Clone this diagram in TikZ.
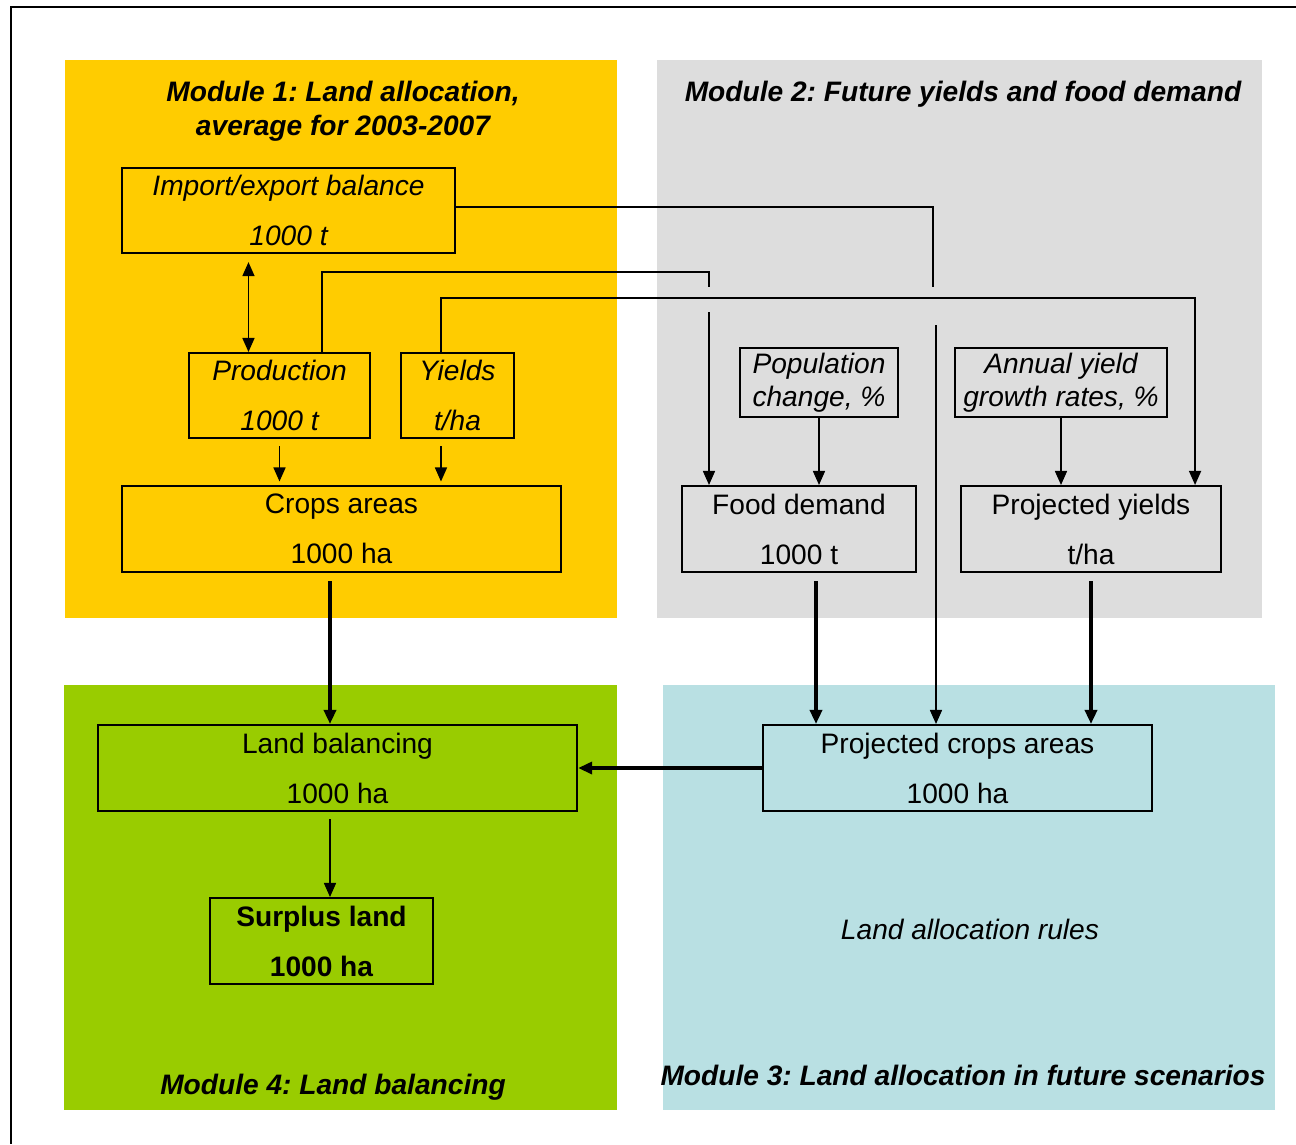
\documentclass[tikz,border=0pt]{standalone}
\usepackage{fontspec}
\setmainfont{Liberation Sans}
\usepackage{tikz}
\usetikzlibrary{arrows.meta}
\definecolor{modone}{HTML}{FFCC00}
\definecolor{modtwo}{HTML}{DDDDDD}
\definecolor{modthree}{HTML}{B9E0E3}
\definecolor{modfour}{HTML}{99CC00}
\frenchspacing
\begin{document}
\begin{tikzpicture}[x=0.01cm,y=-0.01cm,>={Triangle[length=4pt,width=3.4pt]},
  box/.style={draw,line width=0.55pt,inner sep=0pt,align=center,font=\fontsize{8}{14.2}\selectfont},
  small box/.style={draw,line width=0.55pt,inner sep=0pt,align=center,font=\fontsize{8}{9.4}\selectfont\itshape},
  title/.style={align=center,inner sep=0pt,font=\fontsize{8}{9.7}\selectfont\bfseries\itshape},
  link/.style={line width=0.5pt},
  main link/.style={line width=1.3pt}]

\useasboundingbox (0,0) rectangle (1296,1144);
\draw[line width=0.6pt] (1296,7) -| (11,1144);

% module backgrounds
\fill[modone] (65,60) rectangle (617,618);
\fill[modtwo] (657,60) rectangle (1262,618);
\fill[modfour] (64,685) rectangle (617,1110);
\fill[modthree] (663,685) rectangle (1275,1110);

\node at (343,111) [title] (t1) {Module 1: Land allocation,\\average for 2003-2007};
\node at (963,94) [title] (t2) {Module 2: Future yields and food demand};
\node at (963,1075) [title] (t3) {Module 3: Land allocation in future scenarios};
\node at (333,1087) [title] (t4) {Module 4: Land balancing};

\node at (288.5,210.5) [box,minimum width=3.33cm,minimum height=0.85cm,font=\fontsize{8}{14.2}\selectfont\itshape] (imp) {Import/export balance\\1000 t};
\node at (279.5,395.5) [box,minimum width=1.81cm,minimum height=0.85cm,font=\fontsize{8}{14.2}\selectfont\itshape] (prod) {Production\\1000 t};
\node at (457.5,395.5) [box,minimum width=1.13cm,minimum height=0.85cm,font=\fontsize{8}{14.2}\selectfont\itshape] (yld) {Yields\\t/ha};
\node at (341.5,529) [box,minimum width=4.39cm,minimum height=0.86cm] (crops) {Crops areas\\1000 ha};

\node at (819,382.5) [small box,minimum width=1.58cm,minimum height=0.69cm] (pop) {Population\\change, \%};
\node at (1061,382.5) [small box,minimum width=2.12cm,minimum height=0.69cm] (ann) {Annual yield\\growth rates, \%};
\node at (799,529) [box,minimum width=2.34cm,minimum height=0.86cm] (food) {Food demand\\1000 t};
\node at (1091,529) [box,minimum width=2.6cm,minimum height=0.86cm] (pyld) {Projected yields\\t/ha};

\node at (337.5,768) [box,minimum width=4.79cm,minimum height=0.86cm] (bal) {Land balancing\\1000 ha};
\node at (321.5,941) [box,minimum width=2.23cm,minimum height=0.86cm,font=\fontsize{8}{14.2}\selectfont\bfseries] (surp) {Surplus land\\1000 ha};
\node at (957.5,768) [box,minimum width=3.89cm,minimum height=0.86cm] (pca) {Projected crops areas\\1000 ha};
\node at (970,929) [font=\fontsize{8}{9.6}\selectfont\itshape] (rules) {Land allocation rules};

\coordinate (gapAt) at (709,287);
\coordinate (gapAb) at (709,312);
\coordinate (gapBt) at (933,287);
\coordinate (gapBb) at (936,325);

\draw[link,<->,shorten <=2.3pt] ([xshift=-0.4cm]imp.south) -- ([xshift=-0.4cm]imp.south |- prod.north);
\draw[link] ([yshift=0.035cm]imp.east) -| (gapBt);
\draw[link,->] (gapBb) -- (gapBb |- pca.north);
\draw[link] ([xshift=0.425cm]prod.north) -- ++(0,-80) -| (gapAt);
\draw[link,->] (gapAb) -- (gapAb |- food.north);
\draw[link,->] ([xshift=-0.165cm]yld.north) -- ++(0,-54) -| ([xshift=1.04cm]pyld.north);

\draw[link,->,shorten <=2pt,shorten >=1pt] (prod.south) -- (prod.south |- crops.north);
\draw[link,->,shorten <=2pt,shorten >=1pt] ([xshift=-0.165cm]yld.south) -- ([xshift=-0.165cm]yld.south |- crops.north);
\draw[link,->] (pop.south) -- (pop.south |- food.north);
\draw[link,->] (ann.south) -- (ann.south |- pyld.north);

\draw[main link,->,shorten <=2.3pt] ([xshift=-0.115cm]crops.south) -- ([xshift=-0.115cm]crops.south |- bal.north);
\draw[main link,->,shorten <=2.3pt] ([xshift=0.17cm]food.south) -- ([xshift=0.17cm]food.south |- pca.north);
\draw[main link,->,shorten <=2.3pt] (pyld.south) -- (pyld.south |- pca.north);
\draw[main link,->] (pca.west) -- (bal.east);
\draw[link,->,shorten <=2pt] ([xshift=-0.075cm]bal.south) -- ([xshift=-0.075cm]bal.south |- surp.north);

\end{tikzpicture}
\end{document}
